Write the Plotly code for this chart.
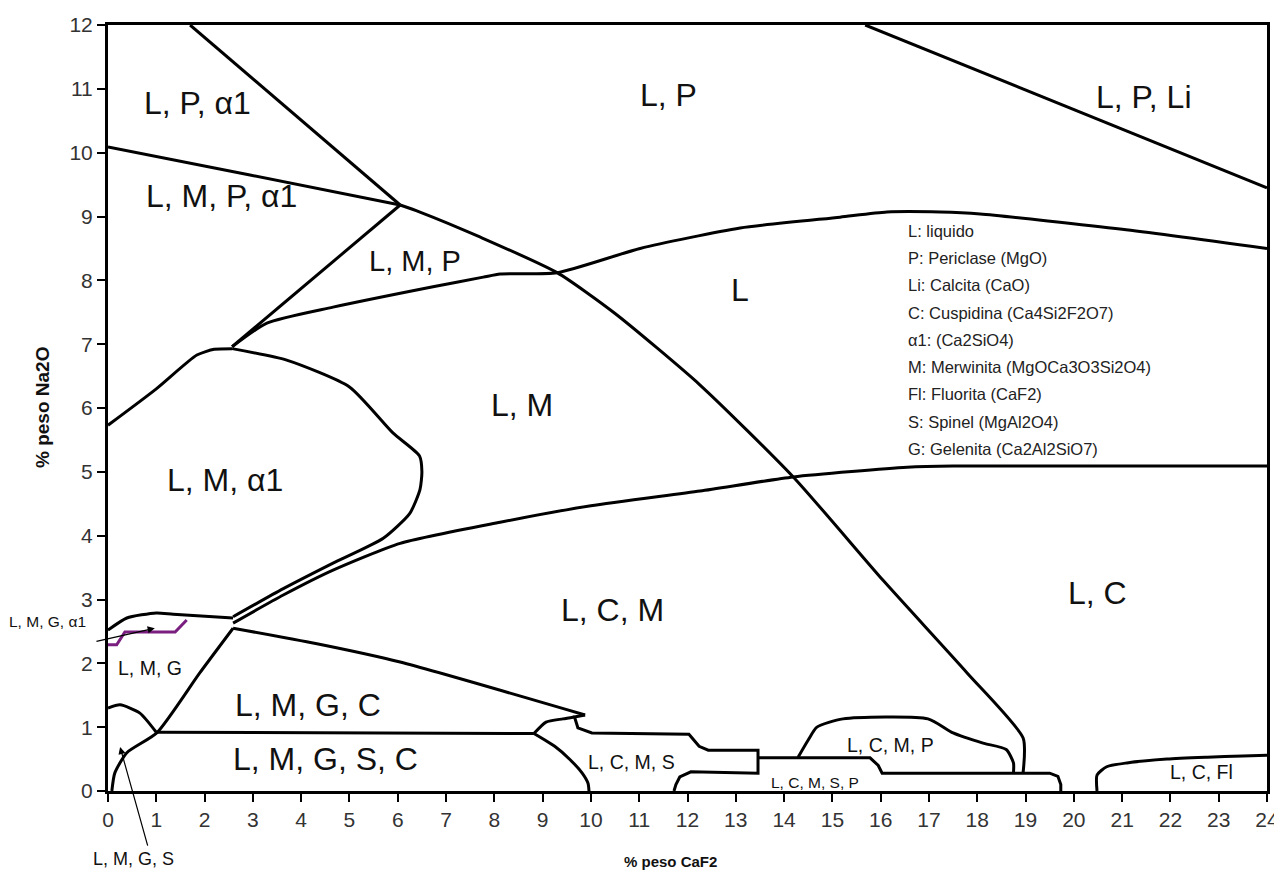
import plotly.graph_objects as go

# ---- boundary curves (x = % peso CaF2, y = % peso Na2O) ----
lp_top_x = [1.7, 6.05]
lp_top_y = [12.0, 9.18]

lpa_x = [0.0, 2.94, 6.05]
lpa_y = [10.09, 9.65, 9.18]

liq_x = [6.05, 6.46, 7.7, 9.3, 10.5, 12.26, 14.19, 16.05, 17.79, 18.95, 18.95]
liq_y = [9.18, 9.07, 8.68, 8.12, 7.48, 6.36, 4.92, 3.3, 1.85, 0.83, 0.29]

lpli_x = [15.68, 24.0]
lpli_y = [12.0, 9.45]

lmp_left_x = [6.05, 2.57]
lmp_left_y = [9.18, 6.96]

lmp_low_x = [2.57, 3.29, 4.66, 6.73, 7.77, 8.12, 9.3, 11.02, 13.09, 15.16, 16.13, 17.23, 18.06, 21.0, 24.0]
lmp_low_y = [6.96, 7.33, 7.58, 7.9, 8.05, 8.1, 8.12, 8.5, 8.82, 8.99, 9.07, 9.07, 9.04, 8.8, 8.5]

lma_top_x = [0.0, 1.0, 1.84, 2.2, 2.57]
lma_top_y = [5.73, 6.3, 6.83, 6.92, 6.93]

bulge_x = [2.57, 3.7, 5.0, 5.9, 6.45, 6.5, 6.46, 6.25, 5.7, 4.66, 3.63, 2.59]
bulge_y = [6.93, 6.75, 6.33, 5.61, 5.25, 5.0, 4.72, 4.35, 3.96, 3.57, 3.17, 2.73]

lcm_top_x = [2.59, 3.63, 4.66, 6.05, 8.12, 10.0, 12.26, 14.19, 16.55, 17.5, 24.0]
lcm_top_y = [2.63, 3.07, 3.46, 3.88, 4.21, 4.47, 4.7, 4.92, 5.07, 5.09, 5.09]

lmga_top_x = [0.0, 0.39, 1.0, 1.35, 2.59]
lmga_top_y = [2.52, 2.71, 2.79, 2.77, 2.71]

lmgc_top_x = [2.59, 4.3, 6.05, 9.88]
lmgc_top_y = [2.55, 2.31, 2.02, 1.19]

lcms_x = [9.88, 9.66, 9.73, 10.02, 12.03, 12.24, 12.43, 13.46, 13.46, 12.07, 11.84, 11.76, 11.72]
lcms_y = [1.19, 1.16, 0.99, 0.91, 0.89, 0.7, 0.64, 0.64, 0.28, 0.3, 0.22, 0.1, 0.0]

lmgsc_top_x = [1.01, 8.82]
lmgsc_top_y = [0.92, 0.9]

bump_x = [8.82, 9.07, 9.42, 9.66]
bump_y = [0.9, 1.08, 1.13, 1.16]

lmgsc_right_x = [8.82, 9.25, 9.57, 9.82, 9.94, 9.96]
lmgsc_right_y = [0.9, 0.7, 0.49, 0.28, 0.12, 0.0]

lmg_left_x = [2.59, 1.9, 1.01, 0.39, 0.14, 0.08]
lmg_left_y = [2.55, 1.85, 0.91, 0.6, 0.28, 0.0]

lmgs_x = [0.0, 0.25, 0.66, 1.0]
lmgs_y = [1.3, 1.35, 1.22, 0.92]

purple_x = [0.0, 0.18, 0.35, 1.39, 1.63]
purple_y = [2.29, 2.29, 2.49, 2.49, 2.68]

lcmsp_x = [13.46, 15.78, 15.95, 16.03, 19.5, 19.67, 19.73, 19.73]
lcmsp_y = [0.52, 0.52, 0.4, 0.28, 0.28, 0.23, 0.1, 0.0]

lcmp_x = [14.29, 14.5, 14.68, 15.22, 16.98, 17.5, 18.12, 18.6, 18.75, 18.75]
lcmp_y = [0.53, 0.8, 1.0, 1.13, 1.13, 0.91, 0.75, 0.65, 0.44, 0.28]

lcfl_x = [20.48, 20.48, 20.68, 21.1, 21.93, 22.76, 23.5, 24.0]
lcfl_y = [0.0, 0.25, 0.38, 0.44, 0.5, 0.53, 0.55, 0.56]

# ---- region labels ----
big_labels = ["L, P, α1", "L, P", "L, P, Li", "L, M, P, α1", "L", "L, M", "L, M, α1",
              "L, C, M", "L, C", "L, M, G, C", "L, M, G, S, C"]
big_x = [1.86, 11.6, 21.45, 2.36, 13.09, 8.57, 2.42, 10.44, 20.48, 4.14, 4.51]
big_y = [10.78, 10.9, 10.87, 9.32, 7.85, 6.05, 4.87, 2.84, 3.1, 1.35, 0.5]

mid_labels = ["L, M, P"]
mid_x = [6.36]
mid_y = [8.3]

small_labels = ["L, M, G", "L, C, M, S", "L, C, M, P", "L, C, Fl"]
small_x = [0.87, 10.85, 16.2, 22.65]
small_y = [1.93, 0.45, 0.72, 0.29]

tiny_labels = ["L, C, M, S, P"]
tiny_x = [14.65]
tiny_y = [0.14]

legend_lines = ["L: liquido", "P: Periclase (MgO)", "Li: Calcita (CaO)",
                "C: Cuspidina (Ca4Si2F2O7)", "α1: (Ca2SiO4)",
                "M: Merwinita (MgOCa3O3Si2O4)", "Fl: Fluorita (CaF2)",
                "S: Spinel (MgAl2O4)", "G: Gelenita (Ca2Al2SiO7)"]

x_ticks = list(range(0, 25))
y_ticks = list(range(0, 13))

fig = go.Figure()

curves = [
    (lp_top_x, lp_top_y, "linear"), (lpa_x, lpa_y, "spline"), (liq_x, liq_y, "spline"),
    (lpli_x, lpli_y, "linear"), (lmp_left_x, lmp_left_y, "linear"),
    (lmp_low_x, lmp_low_y, "spline"), (lma_top_x, lma_top_y, "spline"),
    (bulge_x, bulge_y, "spline"), (lcm_top_x, lcm_top_y, "spline"),
    (lmga_top_x, lmga_top_y, "spline"), (lmgc_top_x, lmgc_top_y, "spline"),
    (lcms_x, lcms_y, "linear"), (lmgsc_top_x, lmgsc_top_y, "linear"),
    (bump_x, bump_y, "spline"), (lmgsc_right_x, lmgsc_right_y, "spline"),
    (lmg_left_x, lmg_left_y, "spline"), (lmgs_x, lmgs_y, "spline"),
    (lcmsp_x, lcmsp_y, "linear"), (lcmp_x, lcmp_y, "spline"), (lcfl_x, lcfl_y, "spline"),
]
for cx, cy, shp in curves:
    fig.add_trace(go.Scatter(x=cx, y=cy, mode="lines",
                             line=dict(color="black", width=3, shape=shp, smoothing=0.6),
                             hoverinfo="skip", showlegend=False))

fig.add_trace(go.Scatter(x=purple_x, y=purple_y, mode="lines",
                         line=dict(color="#7a1f80", width=3),
                         hoverinfo="skip", showlegend=False))

FONT = "Liberation Sans, Arial, sans-serif"
ann = []
for t, x, y in zip(big_labels, big_x, big_y):
    ann.append(dict(x=x, y=y, text=t, showarrow=False, font=dict(family=FONT, size=32, color="#111")))
for t, x, y in zip(mid_labels, mid_x, mid_y):
    ann.append(dict(x=x, y=y, text=t, showarrow=False, font=dict(family=FONT, size=29, color="#111")))
for t, x, y in zip(small_labels, small_x, small_y):
    ann.append(dict(x=x, y=y, text=t, showarrow=False, font=dict(family=FONT, size=19.5, color="#111")))
for t, x, y in zip(tiny_labels, tiny_x, tiny_y):
    ann.append(dict(x=x, y=y, text=t, showarrow=False, font=dict(family=FONT, size=15.5, color="#111")))

leg_y0 = (791 - 231) / 63.83
leg_dy = 27.25 / 63.83
for i, t in enumerate(legend_lines):
    ann.append(dict(x=16.53, y=leg_y0 - i * leg_dy, text=t, showarrow=False, xanchor="left",
                    font=dict(family=FONT, size=16.5, color="#222")))

# outside labels with arrows (paper coordinates so they are not hidden)
ann.append(dict(x=-0.0518, y=0.2076, xref="paper", yref="paper", xanchor="center",
                text="L, M, G, α1", showarrow=False,
                font=dict(family=FONT, size=15.5, color="#111")))
ann.append(dict(x=0.97, y=2.55, ax=-0.27, ay=2.34, axref="x", ayref="y", text="",
                showarrow=True, arrowhead=2, arrowsize=1.2, arrowwidth=1.2, arrowcolor="black"))
ann.append(dict(x=0.0216, y=0, xref="paper", yref="paper", xanchor="center", yanchor="middle",
                yshift=-68, text="L, M, G, S", showarrow=False,
                font=dict(family=FONT, size=18, color="#111")))
ann.append(dict(x=0.25, y=0.69, ax=0.83, ay=-0.88, axref="x", ayref="y", text="",
                showarrow=True, arrowhead=2, arrowsize=1.2, arrowwidth=1.2, arrowcolor="black"))

# axis titles
ann.append(dict(x=11.64, xref="x", y=0, yref="paper", xanchor="center", yanchor="middle",
                yshift=-70, text="<b>% peso CaF2</b>", showarrow=False,
                font=dict(family=FONT, size=15, color="#111")))
ann.append(dict(x=0, xref="paper", xshift=-66, xanchor="center", y=0.5, yref="paper",
                textangle=-90, text="<b>% peso Na2O</b>", showarrow=False,
                font=dict(family=FONT, size=19, color="#111")))

fig.update_layout(
    width=1274, height=862,
    margin=dict(l=100, r=15, t=17, b=79, autoexpand=False),
    plot_bgcolor="white", paper_bgcolor="white",
    annotations=ann, showlegend=False,
    font=dict(family=FONT),
)
fig.update_xaxes(range=[0, 24], tickvals=x_ticks, ticks="outside", ticklen=8, tickwidth=2,
                 tickcolor="black", showline=True, linecolor="black", linewidth=3, mirror=True,
                 showgrid=False, zeroline=False, automargin=False,
                 tickfont=dict(family=FONT, size=21, color="#333"))
fig.update_yaxes(range=[0, 12], tickvals=y_ticks, ticks="outside", ticklen=8, tickwidth=2,
                 tickcolor="black", showline=True, linecolor="black", linewidth=3, mirror=True,
                 showgrid=False, zeroline=False, automargin=False,
                 tickfont=dict(family=FONT, size=21, color="#333"))

fig.write_html("out.html")
